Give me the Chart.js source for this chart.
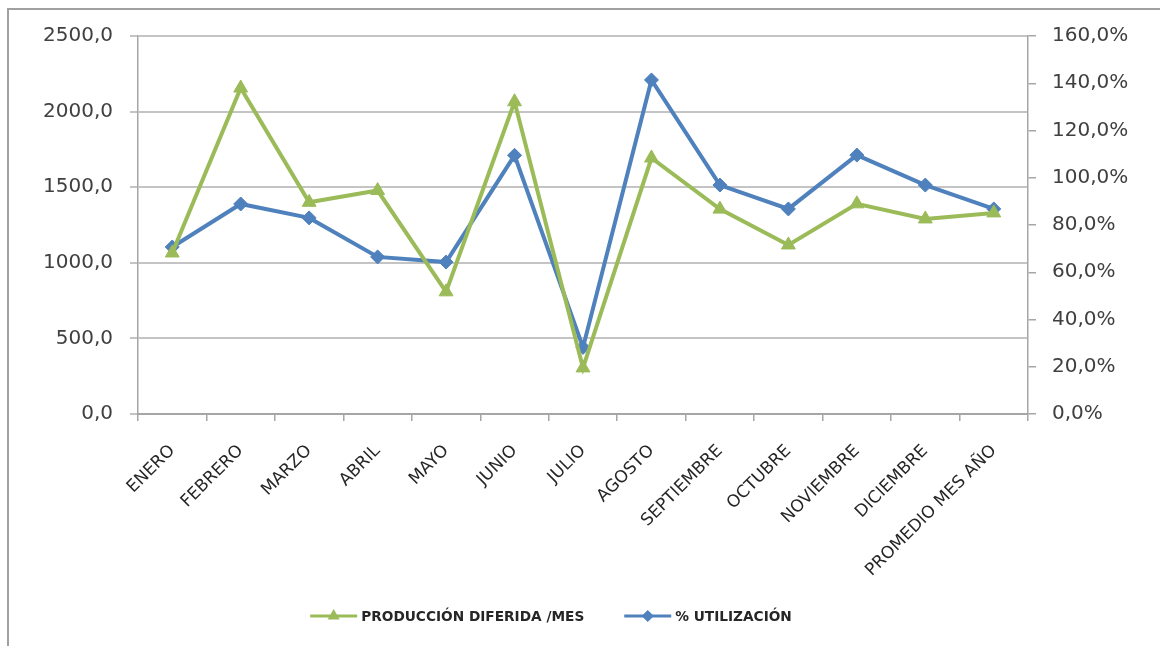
<!DOCTYPE html>
<html>
<head>
<meta charset="utf-8">
<script src="https://cdn.jsdelivr.net/npm/chart.js@4/dist/chart.umd.min.js"></script>
<style>
  html, body { margin: 0; padding: 0; background: #fff; }
  #wrap { width: 1160px; height: 646px; position: relative; }
</style>
</head>
<body>
<div id="wrap"><canvas id="chart"></canvas></div>
<script>
// Data
const months = [
  'ENERO', 'FEBRERO', 'MARZO', 'ABRIL', 'MAYO', 'JUNIO', 'JULIO', 'AGOSTO',
  'SEPTIEMBRE', 'OCTUBRE', 'NOVIEMBRE', 'DICIEMBRE', 'PROMEDIO MES AÑO'
];
const produccionDiferida = [1065, 2156, 1400, 1478, 808, 2065, 305, 1693, 1355, 1118, 1390, 1290, 1330];
const utilizacion = [70.7, 88.9, 83.0, 66.5, 64.3, 109.5, 28.2, 141.4, 96.9, 86.8, 109.6, 96.9, 86.8];
const leftTicks = [0, 500, 1000, 1500, 2000, 2500];
const rightTicks = [0, 20, 40, 60, 80, 100, 120, 140, 160];

const GREEN = '#9BBB59';
const BLUE = '#4F81BD';
const GRID = '#c4c4c4';
const AXIS = '#a6a6a6';

const fmt = v => v.toFixed(1).replace('.', ',');

// outer frame, only top and left edges are visible in the reference
const framePlugin = {
  id: 'frame',
  beforeDraw(chart) {
    const ctx = chart.ctx;
    ctx.save();
    ctx.fillStyle = '#fff';
    ctx.fillRect(0, 0, chart.width, chart.height);
    ctx.strokeStyle = '#a0a0a0';
    ctx.lineWidth = 2;
    ctx.beginPath();
    ctx.moveTo(8, chart.height);
    ctx.lineTo(8, 9);
    ctx.lineTo(chart.width + 5, 9);
    ctx.stroke();
    ctx.restore();
  }
};

// Excel-like legend: short line with the series marker in the middle
const legendPlugin = {
  id: 'excelLegend',
  afterDraw(chart) {
    const ctx = chart.ctx;
    const y = 616;
    const lineLen = 47;
    const gap = 40;
    ctx.save();
    ctx.font = 'bold 13.7px "DejaVu Sans"';
    ctx.textBaseline = 'middle';
    const items = chart.data.datasets.map(ds => ({
      ds, w: lineLen + 4 + ctx.measureText(ds.label).width
    }));
    const total = items.reduce((s, it) => s + it.w, 0) + gap * (items.length - 1);
    let x = 551 - total / 2;
    items.forEach(({ds, w}) => {
      ctx.strokeStyle = ds.borderColor;
      ctx.lineWidth = 3;
      ctx.beginPath();
      ctx.moveTo(x, y);
      ctx.lineTo(x + lineLen, y);
      ctx.stroke();
      ctx.fillStyle = ds.borderColor;
      Chart.helpers.drawPoint(ctx, {
        pointStyle: ds.pointStyle, radius: 4, borderWidth: 1
      }, x + lineLen / 2, y);
      ctx.fillStyle = '#262626';
      ctx.fillText(ds.label, x + lineLen + 4, y + 1);
      x += w + gap;
    });
    ctx.restore();
  }
};

new Chart(document.getElementById('chart'), {
  type: 'line',
  data: {
    labels: months,
    datasets: [
      {
        label: 'PRODUCCIÓN DIFERIDA /MES',
        data: produccionDiferida,
        yAxisID: 'y',
        borderColor: GREEN,
        backgroundColor: GREEN,
        borderWidth: 4,
        pointStyle: 'triangle',
        pointRadius: 8,
        pointBorderWidth: 1,
        tension: 0
      },
      {
        label: '% UTILIZACIÓN',
        data: utilizacion,
        yAxisID: 'y1',
        borderColor: BLUE,
        backgroundColor: BLUE,
        borderWidth: 4,
        pointStyle: 'rectRot',
        pointRadius: 7,
        pointBorderWidth: 1,
        tension: 0
      }
    ]
  },
  options: {
    responsive: true,
    maintainAspectRatio: false,
    animation: false,
    layout: {padding: {left: 10, right: 0, top: 36, bottom: 0}},
    plugins: {
      legend: {display: false},
      tooltip: {enabled: false}
    },
    scales: {
      x: {
        offset: true,
        grid: {
          offset: true,
          drawOnChartArea: false,
          color: AXIS,
          lineWidth: 1.5,
          tickLength: 7
        },
        border: {color: AXIS, width: 2},
        ticks: {
          minRotation: 45,
          maxRotation: 45,
          padding: 20,
          color: '#262626',
          font: {family: 'DejaVu Sans', size: 17}
        },
        afterFit(axis) { axis.height = 232; }
      },
      y: {
        position: 'left',
        min: 0,
        max: 2500,
        afterBuildTicks(axis) { axis.ticks = leftTicks.map(v => ({value: v})); },
        grid: {color: GRID, lineWidth: 2, tickLength: 8},
        border: {color: AXIS, width: 1.5},
        ticks: {
          padding: 17,
          color: '#404040',
          font: {family: 'DejaVu Sans', size: 20},
          callback: v => fmt(v)
        },
        afterFit(axis) { axis.width = 128; }
      },
      y1: {
        position: 'right',
        min: 0,
        max: 160,
        afterBuildTicks(axis) { axis.ticks = rightTicks.map(v => ({value: v})); },
        grid: {drawOnChartArea: false, color: AXIS, lineWidth: 1.5, tickLength: 8},
        border: {color: AXIS, width: 1.5},
        ticks: {
          padding: 16,
          color: '#404040',
          font: {family: 'DejaVu Sans', size: 20},
          callback: v => fmt(v) + '%'
        },
        afterFit(axis) { axis.width = 132; }
      }
    }
  },
  plugins: [framePlugin, legendPlugin]
});
</script>
</body>
</html>
